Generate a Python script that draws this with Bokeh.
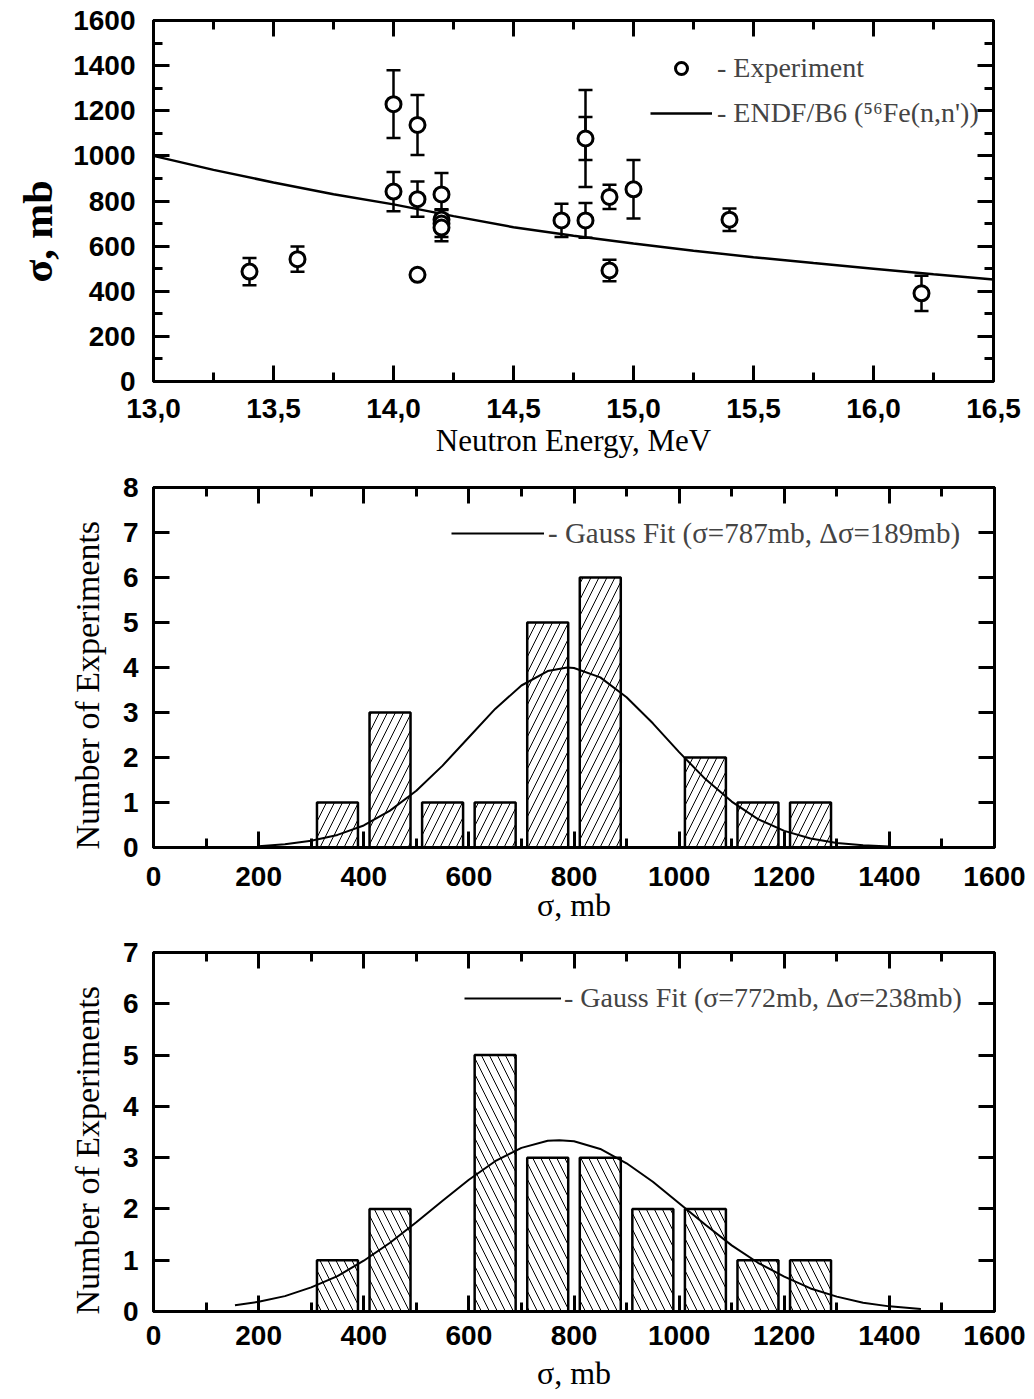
from bokeh.plotting import figure
from bokeh.layouts import column
from bokeh.models import (ColumnDataSource, Whisker, TeeHead, LinearAxis, FixedTicker,
                          Range1d, Legend, LegendItem, Title)
from bokeh.embed import file_html
from bokeh.resources import INLINE

# ---------------- data: panel 1 (cross-section vs neutron energy) ----------------
exp_energy = [13.4, 13.6, 14.0, 14.0, 14.1, 14.1, 14.1, 14.2, 14.2, 14.2, 14.2,
              14.7, 14.8, 14.8, 14.9, 14.9, 15.0, 15.4, 16.2]
exp_sigma = [487, 542, 1229, 842, 1137, 808, 473, 829, 718, 700, 682,
             714, 714, 1077, 818, 492, 852, 717, 391]
exp_err = [60, 56, 150, 87, 133, 78, 12, 95, 45, 60, 60,
           74, 77, 215, 54, 48, 130, 50, 78]
inner_energy = [14.8]
inner_sigma = [1077]
inner_err = [95]

endf_energy = [13.0, 13.25, 13.5, 13.75, 14.0, 14.25, 14.5, 14.75, 15.0,
               15.25, 15.5, 15.75, 16.0, 16.25, 16.5]
endf_sigma = [1000, 938, 882, 830, 785, 733, 684, 646, 612,
              580, 551, 525, 500, 475, 452]

energy_ticks = [13.0, 13.5, 14.0, 14.5, 15.0, 15.5, 16.0, 16.5]
energy_tick_labels = ["13,0", "13,5", "14,0", "14,5", "15,0", "15,5", "16,0", "16,5"]
energy_minor = [13.25, 13.75, 14.25, 14.75, 15.25, 15.75, 16.25]
sigma_ticks = [0, 200, 400, 600, 800, 1000, 1200, 1400, 1600]
sigma_minor = [100, 300, 500, 700, 900, 1100, 1300, 1500]

# ---------------- data: panel 2 (histogram 1) ----------------
hist1_centers = [350, 450, 550, 650, 750, 850, 1050, 1150, 1250]
hist1_counts = [1, 3, 1, 1, 5, 6, 2, 1, 1]
gauss1_x = [200, 250, 300, 350, 400, 450, 500, 550, 600, 650, 700, 750, 787,
            800, 850, 900, 950, 1000, 1050, 1100, 1150, 1200, 1250, 1300, 1350, 1400]
gauss1_y = [0.03, 0.07, 0.15, 0.28, 0.49, 0.82, 1.26, 1.82, 2.45, 3.08, 3.60, 3.92, 4.0,
            3.99, 3.78, 3.34, 2.76, 2.12, 1.52, 1.02, 0.63, 0.37, 0.20, 0.10, 0.05, 0.02]
gauss1_label = "- Gauss Fit (σ=787mb, Δσ=189mb)"

# ---------------- data: panel 3 (histogram 2) ----------------
hist2_centers = [350, 450, 650, 750, 850, 950, 1050, 1150, 1250]
hist2_counts = [1, 2, 5, 3, 3, 2, 2, 1, 1]
gauss2_x = [155, 200, 250, 300, 350, 400, 450, 500, 550, 600, 650, 700, 750, 772,
            800, 850, 900, 950, 1000, 1050, 1100, 1150, 1200, 1250, 1300, 1350, 1400, 1460]
gauss2_y = [0.12, 0.19, 0.30, 0.47, 0.69, 0.99, 1.34, 1.74, 2.16, 2.57, 2.93, 3.19, 3.33, 3.34,
            3.32, 3.17, 2.89, 2.53, 2.11, 1.69, 1.29, 0.95, 0.68, 0.45, 0.29, 0.17, 0.10, 0.05]
gauss2_label = "- Gauss Fit (σ=772mb, Δσ=238mb)"

hist_ticks = [0, 200, 400, 600, 800, 1000, 1200, 1400, 1600]
hist_minor = [100, 300, 500, 700, 900, 1100, 1300, 1500]

SANS = "Liberation Sans"
SERIF = "Liberation Serif"


def style_axis(ax, ticks, minor, show_labels=True, overrides=None, standoff=15):
    ax.ticker = FixedTicker(ticks=ticks, minor_ticks=minor)
    ax.axis_line_width = 3
    ax.axis_line_color = "black"
    ax.major_tick_in = 16
    ax.major_tick_out = 0
    ax.minor_tick_in = 9
    ax.minor_tick_out = 0
    ax.major_tick_line_width = 3
    ax.minor_tick_line_width = 3
    ax.major_tick_line_color = "black"
    ax.minor_tick_line_color = "black" if minor else None
    if show_labels:
        ax.major_label_text_font = SANS
        ax.major_label_text_font_style = "bold"
        ax.major_label_text_font_size = "28px"
        ax.major_label_text_color = "black"
        ax.major_label_standoff = standoff
        if overrides:
            ax.major_label_overrides = overrides
    else:
        ax.major_label_text_font_size = "0px"
        ax.major_label_standoff = 0
        ax.major_label_overrides = {t: "" for t in ticks}


def make_fig(xr, yr, left, top, bottom, fw, fh):
    p = figure(x_range=Range1d(*xr), y_range=Range1d(*yr),
               frame_width=fw, frame_height=fh,
               min_border_left=left, min_border_right=33,
               min_border_top=top, min_border_bottom=bottom,
               output_backend="svg", toolbar_location=None,
               background_fill_color="white", border_fill_color="white",
               outline_line_color="black", outline_line_width=3)
    p.xgrid.visible = False
    p.ygrid.visible = False
    xax = p.below[0]
    yax = p.left[0]
    return p, xax, yax


def add_mirrors(p, xt, xm, yt, ym):
    top_ax = LinearAxis()
    style_axis(top_ax, xt, xm, show_labels=False)
    p.add_layout(top_ax, "above")
    right_ax = LinearAxis()
    style_axis(right_ax, yt, ym, show_labels=False)
    p.add_layout(right_ax, "right")


def label_axis(ax, text, size, standoff, style="normal"):
    ax.axis_label = text
    ax.axis_label_text_font = SERIF
    ax.axis_label_text_font_style = style
    ax.axis_label_text_font_size = size
    ax.axis_label_text_color = "black"
    ax.axis_label_standoff = standoff


def y_title(p, text, offset, standoff, size, style="normal"):
    t = Title(text=text, align="left", offset=offset, standoff=standoff,
              text_font=SERIF, text_font_size=size, text_font_style=style,
              text_color="black")
    p.add_layout(t, "left")


# ================= Panel 1 =================
p1, x1, y1 = make_fig((13.0, 16.5), (0, 1600), left=153, top=20, bottom=88, fw=840, fh=361)
style_axis(x1, energy_ticks, energy_minor,
           overrides=dict(zip(energy_ticks, energy_tick_labels)), standoff=17)
style_axis(y1, sigma_ticks, sigma_minor, standoff=18)
label_axis(x1, "Neutron Energy, MeV", "31px", 2)
y_title(p1, "σ, mb", 99, 19, "42px", style="bold")
add_mirrors(p1, energy_ticks, energy_minor, sigma_ticks, sigma_minor)

err_src = ColumnDataSource(dict(
    x=exp_energy,
    lower=[s - e for s, e in zip(exp_sigma, exp_err)],
    upper=[s + e for s, e in zip(exp_sigma, exp_err)]))
inner_src = ColumnDataSource(dict(
    x=inner_energy,
    lower=[s - e for s, e in zip(inner_sigma, inner_err)],
    upper=[s + e for s, e in zip(inner_sigma, inner_err)]))
for src in (err_src, inner_src):
    w = Whisker(source=src, base="x", upper="upper", lower="lower", dimension="height",
                line_color="black", line_width=2.5, level="underlay",
                upper_head=TeeHead(size=14, line_width=2.5, line_color="black"),
                lower_head=TeeHead(size=14, line_width=2.5, line_color="black"))
    p1.add_layout(w)

r_line = p1.line(endf_energy, endf_sigma, line_color="black", line_width=2.5)
r_circ = p1.scatter(exp_energy, exp_sigma, marker="circle", size=15,
                    fill_color="white", line_color="black", line_width=3)

leg1 = Legend(items=[LegendItem(label="- Experiment", renderers=[r_circ]),
                     LegendItem(label="- ENDF/B6 (⁵⁶Fe(n,n'))", renderers=[r_line])],
              location=(497, 252), orientation="vertical",
              label_text_font=SERIF, label_text_font_size="28px",
              glyph_width=62, glyph_height=30, label_height=30, label_standoff=5,
              spacing=13, padding=0, margin=0, border_line_color=None,
              background_fill_alpha=0)
p1.add_layout(leg1)

# ================= Panel 2 =================
p2, x2, y2 = make_fig((0, 1600), (0, 8), left=152, top=18, bottom=87, fw=841, fh=360)
y2_ticks = [0, 1, 2, 3, 4, 5, 6, 7, 8]
style_axis(x2, hist_ticks, hist_minor, standoff=19)
style_axis(y2, y2_ticks, [], standoff=15)
label_axis(x2, "σ, mb", "32px", -2)
y_title(p2, "Number of Experiments", -2, 28, "34px")
add_mirrors(p2, hist_ticks, hist_minor, y2_ticks, [])

p2.vbar(x=hist1_centers, top=hist1_counts, bottom=0, width=78,
        fill_color="white", line_color="black", line_width=2.5,
        hatch_pattern="/", hatch_color="black", hatch_weight=1, hatch_scale=16)
g1 = p2.line(gauss1_x, gauss1_y, line_color="black", line_width=2)
leg2 = Legend(items=[LegendItem(label=gauss1_label, renderers=[g1])],
              location=(298, 297), label_text_font=SERIF, label_text_font_size="29px",
              glyph_width=93, glyph_height=34, label_height=34, label_standoff=4,
              padding=0, margin=0, border_line_color=None, background_fill_alpha=0)
p2.add_layout(leg2)

# ================= Panel 3 =================
p3, x3, y3 = make_fig((0, 1600), (0, 7), left=152, top=18, bottom=87, fw=841, fh=359)
y3_ticks = [0, 1, 2, 3, 4, 5, 6, 7]
style_axis(x3, hist_ticks, hist_minor, standoff=14)
style_axis(y3, y3_ticks, [], standoff=15)
label_axis(x3, "σ, mb", "32px", 7)
y_title(p3, "Number of Experiments", -3, 28, "34px")
add_mirrors(p3, hist_ticks, hist_minor, y3_ticks, [])

p3.vbar(x=hist2_centers, top=hist2_counts, bottom=0, width=78,
        fill_color="white", line_color="black", line_width=2.5,
        hatch_pattern="\\", hatch_color="black", hatch_weight=1, hatch_scale=16)
g2 = p3.line(gauss2_x, gauss2_y, line_color="black", line_width=2)
leg3 = Legend(items=[LegendItem(label=gauss2_label, renderers=[g2])],
              location=(311, 296), label_text_font=SERIF, label_text_font_size="28px",
              glyph_width=97, glyph_height=34, label_height=34, label_standoff=3,
              padding=0, margin=0, border_line_color=None, background_fill_alpha=0)
p3.add_layout(leg3)

layout = column(p1, p2, p3, spacing=0)
open("out.html", "w").write(file_html(layout, INLINE))
